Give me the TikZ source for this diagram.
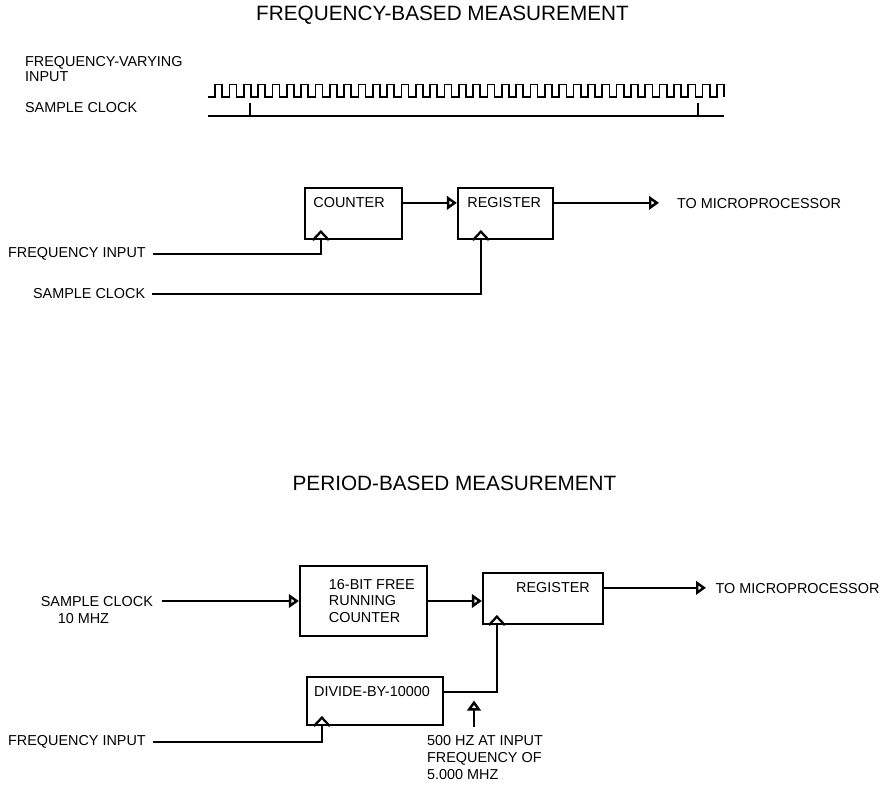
\documentclass[tikz,border=0pt]{standalone}
\usepackage{fontspec}
\setmainfont{Liberation Sans}
\usepackage{tikz}
\usetikzlibrary{
	arrows.meta,
	positioning
}

\tikzset{
	block/.style={draw, line width=1.3pt, inner sep=0pt},
	lbl/.style={font=\fontsize{8.2}{9.6}\selectfont, inner sep=1pt, align=left},
	ttl/.style={font=\fontsize{11.8}{14}\selectfont},
	wire/.style={line width=0.95pt},
	sig/.style={wire, -{Triangle[open, length=0.2cm, width=0.27cm, line width=1.4pt]}},
	clk/.pic={\draw[line width=1.3pt] (-0.16,0) -- (0,0.17) -- (0.16,0);}
}

\begin{document}
\begin{tikzpicture}
		
		% Frame
		\useasboundingbox (0,0) rectangle (17.92,15.72);
		
		% Titles
		\node[ttl] (ttl1) at (8.85,15.42) {FREQUENCY-BASED MEASUREMENT};
		\node[ttl] (ttl2) at (9.09,6.06) {PERIOD-BASED MEASUREMENT};
		
		% Timing diagram
		\node[lbl, anchor=west, font=\fontsize{8.2}{8.4}\selectfont] (fvi) at (0.46,14.34) {FREQUENCY-VARYING\\INPUT};
		\node[lbl, anchor=west] (sct) at (0.46,13.56) {SAMPLE CLOCK};
		\draw[wire] (4.16,13.78) -- (4.30,13.78)
		\foreach \k in {1,...,35} { -- ++(0,0.25) -- ++(0.1434,0) -- ++(0,-0.25) -- ++(0.1434,0) }
		-- ++(0,0.25) -- ++(0.1434,0) -- ++(0,-0.25);
		\draw[wire] (4.16,13.40) -- (14.48,13.40);
		\draw[wire] (5.0,13.40) -- (5.0,13.66);
		\draw[wire] (13.96,13.40) -- (13.96,13.66);
		
		% Frequency-based blocks
		\node[block, minimum width=1.94cm, minimum height=1.02cm] (cnt) at (7.07,11.45) {};
		\node[lbl, anchor=west] (cntlbl) at ([shift={(0.15,-0.32)}]cnt.north west) {COUNTER};
		\node[block, minimum width=1.90cm, minimum height=1.02cm] (reg) at (10.11,11.45) {};
		\node[lbl, anchor=west] (reglbl) at ([shift={(0.17,-0.32)}]reg.north west) {REGISTER};
		\node[lbl, anchor=west] (mp1) at (13.50,11.64) {TO MICROPROCESSOR};
		\draw[sig] (cntlbl -| cnt.east) -- (cntlbl -| reg.west);
		\draw[sig] (reglbl -| reg.east) -- ([xshift=-0.32cm]reglbl -| mp1.west);
		
		\node[lbl, anchor=west] (fin1) at (0.12,10.64) {FREQUENCY INPUT};
		\node[lbl, anchor=west] (sck1) at (0.62,9.84) {SAMPLE CLOCK};
		\coordinate (cntclk) at ([xshift=0.34cm]cnt.south west);
		\coordinate (regclk) at ([xshift=0.48cm]reg.south west);
		\draw[wire] ([xshift=0.1cm]fin1.east) -| (cntclk);
		\draw[wire] ([xshift=0.1cm]sck1.east) -| (regclk);
		\pic at (cntclk) {clk};
		\pic at (regclk) {clk};
		
		% Period-based blocks
		\node[block, minimum width=2.54cm, minimum height=1.40cm] (cnt2) at (7.27,3.70) {};
		\node[lbl, anchor=west] (cnt2lbl) at ([xshift=0.56cm]cnt2.west) {16-BIT FREE\\RUNNING\\COUNTER};
		\node[lbl, anchor=north east] (sck2) at (3.10,3.84) {SAMPLE CLOCK\\\hspace{0.34cm}10 MHZ};
		\draw[sig] ([xshift=0.14cm]sck2.east |- cnt2.west) -- (cnt2.west);
		
		\node[block, minimum width=2.40cm, minimum height=1.02cm] (reg2) at (10.86,3.75) {};
		\node[lbl, anchor=west] (reg2lbl) at ([shift={(0.645,-0.32)}]reg2.north west) {REGISTER};
		\node[lbl, anchor=west] (mp2) at (14.27,3.94) {TO MICROPROCESSOR};
		\draw[sig] (cnt2.east) -- (cnt2.east -| reg2.west);
		\draw[sig] (reg2lbl -| reg2.east) -- ([xshift=-0.15cm]reg2lbl -| mp2.west);
		
		\node[block, minimum width=2.72cm, minimum height=0.96cm] (div) at (7.50,1.70) {};
		\node[lbl, anchor=west] (divlbl) at ([shift={(0.125,-0.32)}]div.north west) {DIVIDE-BY-10000};
		\coordinate (divclk) at ([xshift=0.32cm]div.south west);
		\coordinate (reg2clk) at ([xshift=0.30cm]reg2.south west);
		\draw[wire] (divlbl -| div.east) -| (reg2clk);
		\pic at (reg2clk) {clk};
		
		\node[lbl, anchor=west] (fin2) at (0.12,0.88) {FREQUENCY INPUT};
		\draw[wire] ([xshift=0.1cm]fin2.east) -| (divclk);
		\pic at (divclk) {clk};
		
		% 500 Hz note
		\node[lbl, anchor=north west] (note) at (8.50,1.05) {500 HZ AT INPUT\\FREQUENCY OF\\5.000 MHZ};
		\coordinate (tap) at (9.48,1.86);
		\draw[sig] ([yshift=0.13cm]note.north -| tap) -- ([yshift=-0.15cm]tap);
		
	\end{tikzpicture}
\end{document}
